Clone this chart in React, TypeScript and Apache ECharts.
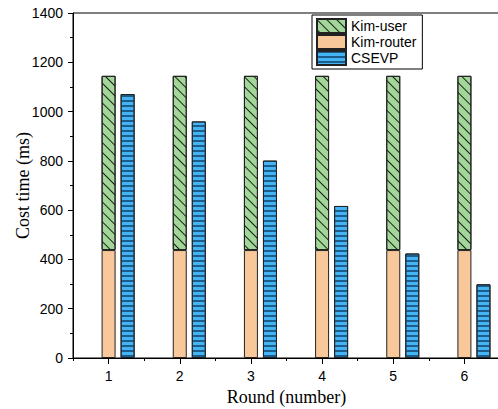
import React, { useEffect, useRef } from "react";
import * as echarts from "echarts";

const rounds = ["1", "2", "3", "4", "5", "6"];
const roundTicks = [1, 2, 3, 4, 5, 6];
const kimRouter = [438, 438, 438, 438, 438, 438];
const kimUser = [707, 707, 707, 707, 707, 707];
const csevp = [1071, 960, 801, 617, 424, 299];
const yTicks = [0, 200, 400, 600, 800, 1000, 1200, 1400];

export default function App() {
  const ref = useRef<HTMLDivElement>(null);
  useEffect(() => {
    if (!ref.current) return;
    const chart = echarts.init(ref.current, null, { renderer: "svg" });
    const sans = "Liberation Sans";
    const serif = "Liberation Serif";
    const border = { borderColor: "#222", borderWidth: 1 };
    chart.setOption({
      animation: false,
      backgroundColor: "#fff",
      grid: {
        left: 73,
        top: 13,
        width: 427,
        bottom: 51,
        show: true,
        borderColor: "#000",
        borderWidth: 1,
        backgroundColor: "transparent",
        outerBoundsMode: "none",
        containLabel: false,
      },
      legend: {
        data: ["Kim-user", "Kim-router", "CSEVP"],
        orient: "vertical",
        left: 312,
        top: 15,
        itemWidth: 29,
        itemHeight: 14,
        itemGap: 0,
        padding: [3, 6, 3, 4],
        borderColor: "#000",
        borderWidth: 1,
        backgroundColor: "#fff",
        icon: "rect",
        textStyle: { fontFamily: sans, fontSize: 14, lineHeight: 16, color: "#000" },
      },
      xAxis: [
        {
          type: "category",
          data: rounds,
          position: "top",
          show: false,
        },
        {
          type: "value",
          position: "bottom",
          min: 0.5,
          max: 6.5,
          interval: 1,
          name: "Round (number)",
          nameLocation: "middle",
          nameGap: 30,
          nameMoveOverlap: false,
          nameTextStyle: { fontFamily: serif, fontSize: 18, color: "#000" },
          axisLine: { show: true, lineStyle: { color: "#000", width: 1 } },
          axisTick: { show: true, length: 3, lineStyle: { color: "#000" } },
          minorTick: { show: true, splitNumber: 2, length: 6, lineStyle: { color: "#000" } },
          axisLabel: {
            customValues: roundTicks,
            formatter: (v: number) => String(v),
            margin: 11,
            fontFamily: sans,
            fontSize: 14,
            color: "#000",
          },
          splitLine: { show: false },
          minorSplitLine: { show: false },
        },
      ],
      yAxis: {
        type: "value",
        min: yTicks[0],
        max: yTicks[yTicks.length - 1],
        interval: 200,
        name: "Cost time (ms)",
        nameLocation: "middle",
        nameGap: 41,
        nameMoveOverlap: false,
        nameTextStyle: { fontFamily: serif, fontSize: 18, color: "#000" },
        axisLine: { show: true, lineStyle: { color: "#000", width: 1 } },
        axisTick: { show: true, length: 5, lineStyle: { color: "#000" } },
        minorTick: { show: true, splitNumber: 2, length: 3, lineStyle: { color: "#000" } },
        axisLabel: {
          margin: 10,
          formatter: (v: number) => String(v),
          fontFamily: sans,
          fontSize: 14,
          color: "#000",
        },
        splitLine: { show: false },
      },
      series: [
        {
          name: "_pad",
          type: "bar",
          xAxisIndex: 0,
          barWidth: 14,
          barGap: "36%",
          data: [],
        },
        {
          name: "Kim-router",
          type: "bar",
          xAxisIndex: 0,
          stack: "kim",
          barWidth: 14,
          barGap: "36%",
          data: kimRouter,
          itemStyle: { color: "#f9c89a", ...border },
        },
        {
          name: "Kim-user",
          type: "bar",
          xAxisIndex: 0,
          stack: "kim",
          barWidth: 14,
          barGap: "36%",
          data: kimUser,
          itemStyle: {
            color: "#a3d699",
            ...border,
            decal: {
              symbol: "rect",
              color: "rgba(0,0,0,0.85)",
              dashArrayX: [1, 0],
              dashArrayY: [1, 6],
              rotation: Math.PI / 4,
              symbolSize: 1,
            },
          },
        },
        {
          name: "CSEVP",
          type: "bar",
          xAxisIndex: 0,
          barWidth: 14,
          barGap: "36%",
          data: csevp,
          itemStyle: {
            color: "#45b4f5",
            ...border,
            decal: {
              symbol: "rect",
              color: "#1d5d8c",
              dashArrayX: [1, 0],
              dashArrayY: [1.3, 2.7],
              rotation: 0,
              symbolSize: 1,
            },
          },
        },
      ],
    });
    return () => chart.dispose();
  }, []);
  return (
    <div
      ref={ref}
      style={{ position: "fixed", left: 0, top: 0, width: 498, height: 409 }}
    />
  );
}
